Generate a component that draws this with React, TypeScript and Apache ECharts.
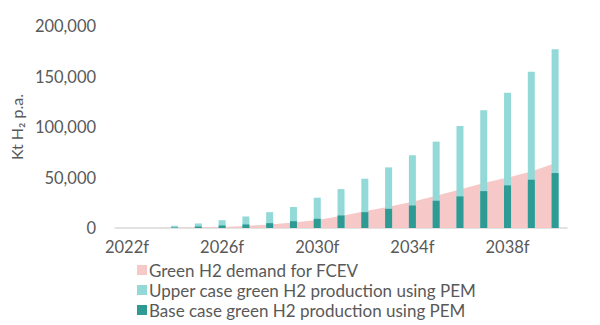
import React, { useEffect, useRef } from "react";
import * as echarts from "echarts";

const categories = ["2022f","2023f","2024f","2025f","2026f","2027f","2028f","2029f","2030f","2031f","2032f","2033f","2034f","2035f","2036f","2037f","2038f","2039f","2040f"];
const demandFCEV = [0, 0, 200, 500, 1000, 2000, 3500, 5500, 8000, 12000, 16500, 21000, 26000, 32000, 38000, 44500, 50000, 56000, 64000];
const upperCase = [0, 0, 2200, 4500, 7700, 11400, 15700, 20800, 30000, 38500, 48800, 60000, 72000, 85500, 101000, 116600, 134000, 154600, 177000];
const baseCase = [0, 0, 500, 1500, 2500, 3500, 4800, 6700, 9100, 12400, 15700, 19000, 22300, 27000, 31300, 36500, 42200, 47800, 54400];
const seriesNames = ["Green H2 demand for FCEV", "Upper case green H2 production using PEM", "Base case green H2 production using PEM"];
const yTicks = { min: 0, max: 200000, interval: 50000 };

const FONT = "Lato, 'Open Sans', sans-serif";
const TXT = "#595959";

export default function App() {
  const ref = useRef<HTMLDivElement>(null);
  useEffect(() => {
    if (!ref.current) return;
    const chart = echarts.init(ref.current, undefined, { renderer: "svg" });
    const legendTops = [261, 281, 301];
    chart.setOption({
      animation: false,
      textStyle: { fontFamily: FONT },
      grid: { left: 112, right: 33, top: 26, bottom: 97 },
      legend: seriesNames.map((n, i) => ({
        orient: "horizontal",
        left: 137,
        top: legendTops[i],
        padding: 0,
        itemWidth: 10,
        itemHeight: 10,
        icon: "rect",
        textStyle: { fontFamily: FONT, fontSize: 17, lineHeight: 18, color: TXT, padding: [0, 0, 0, -3] },
        data: [n],
      })),
      xAxis: {
        type: "category",
        data: categories,
        boundaryGap: true,
        axisLine: { lineStyle: { color: "#D9D9D9", width: 1.5 } },
        axisTick: { show: false },
        axisLabel: { interval: 3, fontFamily: FONT, fontSize: 16.5, color: TXT, margin: 10 },
      },
      yAxis: {
        type: "value",
        min: yTicks.min,
        max: yTicks.max,
        interval: yTicks.interval,
        splitLine: { show: false },
        axisLine: { show: false },
        axisTick: { show: false },
        axisLabel: {
          fontFamily: FONT,
          fontSize: 16.5,
          color: TXT,
          margin: 19,
          formatter: (v: number) => v.toLocaleString("en-US"),
        },
        name: "Kt H₂ p.a.",
        nameLocation: "middle",
        nameRotate: 90,
        nameGap: 91,
        nameTextStyle: { fontFamily: FONT, fontSize: 16, color: TXT },
      },
      series: [
        {
          name: seriesNames[0],
          type: "line",
          data: demandFCEV,
          symbol: "none",
          lineStyle: { width: 0 },
          itemStyle: { color: "#F6C8C8" },
          areaStyle: { color: "#F6C8C8", opacity: 1 },
          z: 1,
        },
        {
          name: seriesNames[1],
          type: "bar",
          data: upperCase,
          barWidth: 7,
          barGap: "-100%",
          itemStyle: { color: "#93D9D8" },
          z: 2,
        },
        {
          name: seriesNames[2],
          type: "bar",
          data: baseCase,
          barWidth: 7,
          barGap: "-100%",
          itemStyle: { color: "#2E9A94" },
          z: 3,
        },
      ],
    });
    return () => chart.dispose();
  }, []);
  return <div ref={ref} style={{ position: "absolute", left: 0, top: 0, width: 600, height: 325 }} />;
}
